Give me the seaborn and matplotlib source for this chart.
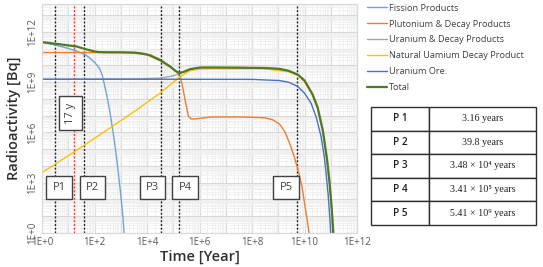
import numpy as np
import matplotlib
matplotlib.use("Agg")
import matplotlib.pyplot as plt
import matplotlib.ticker as mticker
import seaborn as sns

# values, as log10(time [year]) and log10(activity [Bq])
fission_t = [0, 0.5, 1.0, 1.33, 1.67, 2.0, 2.2, 2.3, 2.4, 2.5, 2.6, 2.7, 2.8, 2.9, 3.0, 3.08, 3.14]
fission_a = [11.38, 11.22, 11.02, 10.85, 10.63, 10.2, 9.8, 9.4, 8.7, 8.0, 7.1, 6.1, 5.0, 3.7, 2.3, 1.0, -0.3]

pu_t = [0, 1, 2, 3, 3.5, 4.0, 4.5, 4.9, 5.14, 5.25, 5.33, 5.45, 5.58, 5.7, 5.9, 6.4, 7.5, 8.5,
        8.8, 9.05, 9.25, 9.43, 9.6, 9.75, 9.9, 10.0, 10.1, 10.2]
pu_a = [10.77, 10.77, 10.77, 10.76, 10.74, 10.64, 10.28, 9.88, 9.6, 9.3, 8.95, 7.95, 6.96, 6.8, 6.82,
        6.92, 6.93, 6.88, 6.75, 6.5, 6.05, 5.37, 4.6, 3.79, 2.8, 1.8, 0.8, -0.3]

u_t = [0, 3.5, 4.5, 5.0, 5.24, 5.5, 6.02, 6.5, 8.5, 9.4, 9.75, 10.0, 10.3, 10.5, 10.7, 10.85, 10.95,
       11.03, 11.09, 11.13]
u_a = [9.18, 9.19, 9.24, 9.38, 9.52, 9.68, 9.85, 9.86, 9.85, 9.67, 9.44, 9.08, 8.28, 7.48, 6.08, 4.48,
       3.08, 1.58, -0.02, -0.82]

nat_t = [0, 1.67, 3.56, 4.5, 5.24, 5.64, 6.02, 6.5, 8.5, 9.4, 9.75, 10.0, 10.3, 10.5, 10.7, 10.85,
         10.95, 11.03, 11.09, 11.13]
nat_a = [3.6, 5.3, 7.3, 8.35, 9.3, 9.7, 9.78, 9.8, 9.8, 9.62, 9.4, 9.05, 8.25, 7.45, 6.05, 4.45, 3.05,
         1.55, -0.05, -0.85]

ore_t = [0, 4, 8, 9.05, 9.4, 9.74, 10.0, 10.25, 10.45, 10.63, 10.75, 10.82, 10.9, 10.97, 11.0]
ore_a = [9.18, 9.18, 9.17, 9.1, 9.0, 8.75, 8.35, 7.75, 6.9, 5.77, 4.6, 3.6, 2.3, 0.8, -0.1]

total_t = [0, 0.5, 1.0, 1.33, 1.67, 2.0, 2.16, 2.5, 3.0, 3.5, 3.75, 4.1, 4.5, 4.89, 5.1, 5.24, 5.4,
           5.64, 6.02, 6.5, 7.5, 8.5, 9.05, 9.4, 9.75, 10.0, 10.3, 10.5, 10.7, 10.85, 10.95, 11.03,
           11.1, 11.14]
total_a = [11.4, 11.3, 11.2, 11.13, 10.97, 10.84, 10.8, 10.79, 10.79, 10.77, 10.73, 10.62, 10.33, 9.93,
           9.66, 9.55, 9.62, 9.78, 9.88, 9.88, 9.87, 9.85, 9.8, 9.68, 9.45, 9.1, 8.3, 7.5, 6.1, 4.5,
           3.1, 1.6, 0.0, -0.8]

series_names = ["Fission Products", "Plutonium & Decay Products", "Uranium & Decay Products",
                "Natural Uamium Decay Product", "Uranium Ore.", "Total"]
series_colors = ["#6fa4da", "#ed7d31", "#a5a5a5", "#ffc000", "#4472c4", "#4e7a27"]

# marker lines (years)
period_names = ["P1", "P2", "P3", "P4", "P5"]
period_years = [3.16, 39.8, 3.48e4, 1.7e5, 5.41e9]
period_box_x = [4.5, 83, 1.6e4, 2.8e5, 2.0e9]
marker_17y = 17

table_labels = ["P 1", "P 2", "P 3", "P 4", "P 5"]
table_values = ["3.16 years", "39.8 years", "3.48 × 10⁴ years", "3.41 × 10⁵ years", "5.41 × 10⁹ years"]

sns.set_theme(style="white")
plt.rcParams["font.family"] = ["Open Sans", "DejaVu Sans"]

fig = plt.figure(figsize=(5.43, 2.67), dpi=100)
ax = fig.add_axes([42 / 543, 34 / 267, 315 / 543, 229 / 267])

data = [(fission_t, fission_a), (pu_t, pu_a), (u_t, u_a), (nat_t, nat_a), (ore_t, ore_a),
        (total_t, total_a)]
for (tt, aa), name, col in zip(data, series_names, series_colors):
    sns.lineplot(x=10 ** np.array(tt), y=10 ** np.array(aa), ax=ax, color=col, label=name,
                 linewidth=1.6 if name == "Total" else 1.0, estimator=None, sort=False)

ax.set_xscale("log")
ax.set_yscale("log")
ax.set_xlim(1, 1e12)
ax.set_ylim(1, 10 ** 13.67)

ax.xaxis.set_major_locator(mticker.FixedLocator([10.0 ** k for k in range(0, 13)]))
ax.yaxis.set_major_locator(mticker.FixedLocator([10.0 ** k for k in range(0, 14)]))
ax.xaxis.set_minor_locator(mticker.LogLocator(base=10, subs=np.arange(2, 10), numticks=100))
ax.yaxis.set_minor_locator(mticker.LogLocator(base=10, subs=np.arange(2, 10), numticks=100))
ax.xaxis.set_major_formatter(mticker.FuncFormatter(
    lambda v, p: "1E+%d" % round(np.log10(v)) if round(np.log10(v)) % 2 == 0 else ""))
ax.yaxis.set_major_formatter(mticker.FuncFormatter(
    lambda v, p: "1E+%d" % round(np.log10(v)) if round(np.log10(v)) % 3 == 0 else ""))
ax.xaxis.set_minor_formatter(mticker.NullFormatter())
ax.yaxis.set_minor_formatter(mticker.NullFormatter())
ax.tick_params(axis="both", which="both", length=0, labelsize=7, colors="#595959", pad=3)
for lab in ax.get_yticklabels():
    lab.set_rotation(90)
    lab.set_va("center")

ax.grid(True, which="major", color="#d9d9d9", linewidth=0.8)
ax.grid(True, which="minor", color="#efefef", linewidth=0.6)
for s in ax.spines.values():
    s.set_color("#d9d9d9")
    s.set_linewidth(0.8)

for yr in period_years:
    ax.axvline(yr, color="#222222", linestyle=(0, (1.5, 1.2)), linewidth=1.0, zorder=1)
ax.axvline(marker_17y, color="#ff3030", linestyle=(0, (1.5, 1.2)), linewidth=1.0, zorder=1)

box = dict(boxstyle="square,pad=0.55", fc="white", ec="#404040", lw=1.0)
for name, bx in zip(period_names, period_box_x):
    ax.text(bx, 10 ** 2.7, name, ha="center", va="center", fontsize=8, color="#404040",
            bbox=box, zorder=5)
ax.text(12, 10 ** 7.15, "17 y", ha="center", va="center", fontsize=8, color="#404040",
        rotation=90, bbox=box, zorder=5)

ax.set_xlabel("Time [Year]", fontsize=10.5, fontweight="semibold", color="#303030", labelpad=1)
ax.set_ylabel("Radioactivity [Bq]", fontsize=10.5, fontweight="semibold", color="#303030", labelpad=4)

handles, labels = ax.get_legend_handles_labels()
ax.legend(handles, labels, loc="upper left", bbox_to_anchor=(363 / 543, 1.0),
          bbox_transform=fig.transFigure, frameon=False, fontsize=6.6, handlelength=2.2,
          handletextpad=0.2, labelspacing=0.75, borderaxespad=0.0, labelcolor="#404040")

tax = fig.add_axes([371 / 543, 42 / 267, 165 / 543, 118 / 267])
tax.axis("off")
cells = [[a, b] for a, b in zip(table_labels, table_values)]
tbl = tax.table(cellText=cells, bbox=[0, 0, 1, 1], colWidths=[0.35, 0.65], cellLoc="center")
tbl.auto_set_font_size(False)
for (r, c), cell in tbl.get_celld().items():
    cell.set_edgecolor("#303030")
    cell.set_linewidth(1.0)
    txt = cell.get_text()
    txt.set_fontsize(7.2)
    txt.set_color("#202020")
    if c == 0:
        txt.set_fontweight("semibold")
    else:
        txt.set_fontfamily(["Liberation Serif", "DejaVu Serif"])

fig.savefig("out.png", dpi=100)
